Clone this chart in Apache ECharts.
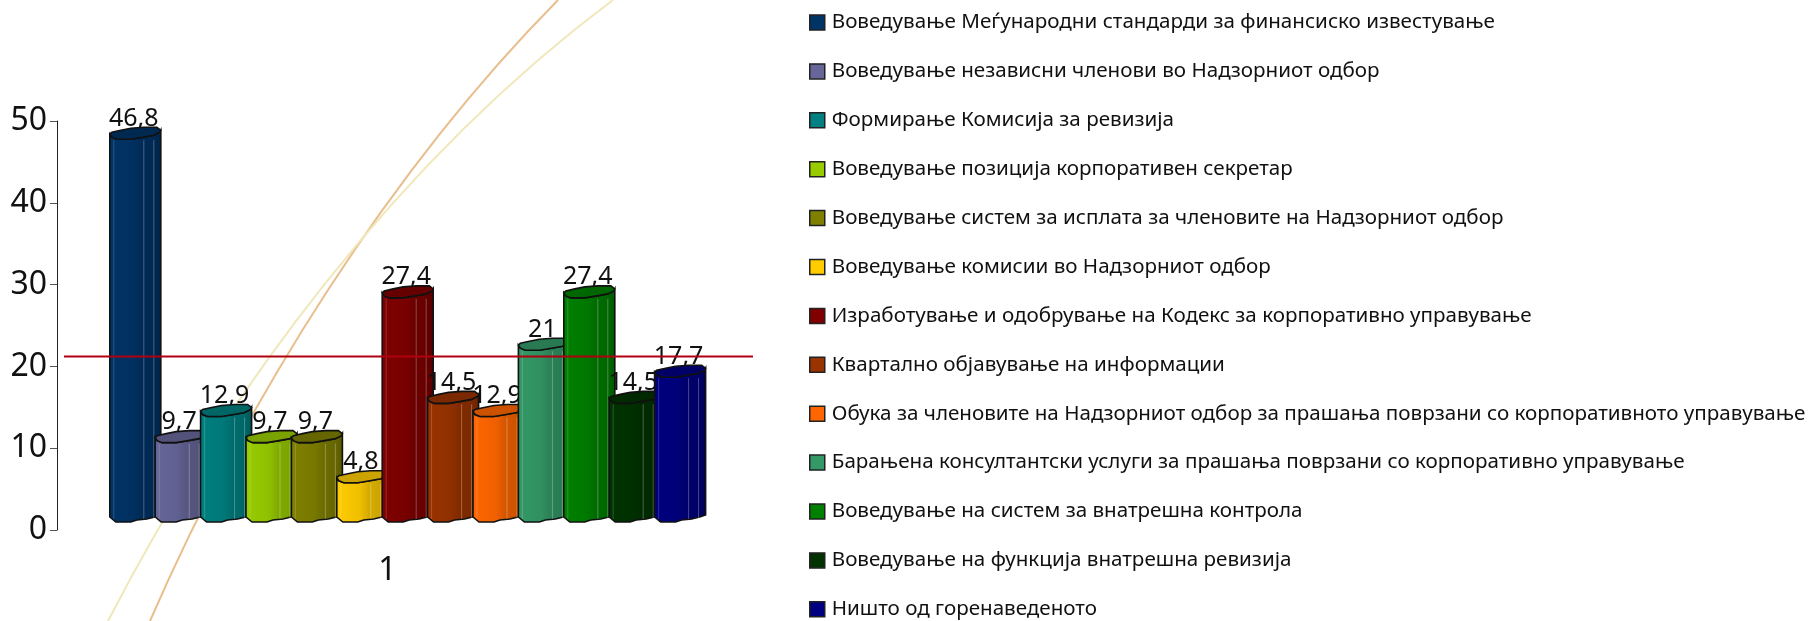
<!DOCTYPE html>
<html>
<head>
<meta charset="utf-8">
<title>chart</title>
<style>
html,body{margin:0;padding:0;background:#fff}
#main{width:1809px;height:621px}
</style>
<script src="https://cdn.jsdelivr.net/npm/echarts@6/dist/echarts.min.js"></script>
</head>
<body>
<div id="main"></div>
<script>
var categories = ['1'];
var names = [
  'Воведување Меѓународни стандарди за финансиско известување',
  'Воведување независни членови во Надзорниот одбор',
  'Формирање Комисија за ревизија',
  'Воведување позиција корпоративен секретар',
  'Воведување систем за исплата за членовите на Надзорниот одбор',
  'Воведување комисии во Надзорниот одбор',
  'Изработување и одобрување на Кодекс за корпоративно управување',
  'Квартално објавување на информации',
  'Обука за членовите на Надзорниот одбор за прашања поврзани со корпоративното управување',
  'Барањена консултантски услуги за прашања поврзани со корпоративно управување',
  'Воведување на систем за внатрешна контрола',
  'Воведување на функција внатрешна ревизија',
  'Ништо од горенаведеното'
];
var values = [46.8, 9.7, 12.9, 9.7, 9.7, 4.8, 27.4, 14.5, 12.9, 21, 27.4, 14.5, 17.7];
var colors = ['#003366','#666699','#008080','#99CC00','#808000','#FFCC00','#800000','#993300','#FF6600','#339966','#008000','#003300','#000080'];
var refLine = 21.2;
var fontName = '"Noto Sans"';

function shade(hex, k){
  var r = parseInt(hex.substr(1,2),16), g = parseInt(hex.substr(3,2),16), b = parseInt(hex.substr(5,2),16);
  return 'rgb('+Math.round(r*k)+','+Math.round(g*k)+','+Math.round(b*k)+')';
}

// wavy outline of the cylinder, offsets in px from the bar's corners
var lidFront = [[0,0],[2,3],[7,5],[21,5],[33,3],[44,1],[50,-2],[51,-4]];
var lidBack = [[47,-7],[34,-7],[21,-6],[11,-4],[2,-2]];
var foot = [[51,-7],[45,-5],[37,-3],[27,-2],[21,0],[6,0],[0,-5]];

function barItem(i){
  return function(params, api){
    var p = api.coord([api.value(0), api.value(1)]);
    var base = api.coord([api.value(0), 0]);
    var left = p[0] + (i-6)*45.4 - 5.3;
    var top = p[1] - 13;
    var bottom = base[1] - 8;
    var c = colors[i];
    var edge = '#111';
    var body = [], lid = [];
    lidFront.forEach(function(o){ body.push([left+o[0], top+o[1]]); lid.push([left+o[0], top+o[1]]); });
    foot.forEach(function(o){ body.push([left+o[0], bottom+o[1]]); });
    lidBack.forEach(function(o){ lid.push([left+o[0], top+o[1]]); });
    var kids = [
      {type:'text', style:{text:String(values[i]).replace('.',','), x:left+24, y:top-3, textAlign:'center', verticalAlign:'bottom', fill:'#111', font:'25px '+fontName}},
      {type:'polygon', shape:{points:body}, style:{
        fill:new echarts.graphic.LinearGradient(0,0,1,0,[
          {offset:0,color:shade(c,1)},{offset:0.45,color:shade(c,0.94)},
          {offset:0.62,color:shade(c,0.84)},{offset:0.86,color:shade(c,0.8)},{offset:1,color:shade(c,0.68)}
        ]), stroke:edge, lineWidth:1.6}}
    ];
    [4, 34, 44].forEach(function(dx, n){
      kids.push({type:'line', shape:{x1:left+dx, y1:top+6, x2:left+dx, y2:bottom-3},
        style:{stroke:'rgba(255,255,255,'+(n==0?0.18:0.28)+')', lineWidth:1}});
    });
    kids.push({type:'polygon', shape:{points:lid}, style:{fill:shade(c,0.8), stroke:edge, lineWidth:1.6}});
    return {type:'group', children:kids};
  };
}

var series = [];
for(var i=0;i<names.length;i++){
  series.push({
    type:'custom', name:names[i], data:[[0,values[i]]],
    encode:{x:0,y:1}, clip:false, itemStyle:{color:colors[i]},
    renderItem:barItem(i)
  });
}
// red horizontal line runs past both sides of the plot
series.push({
  type:'custom', name:'line', data:[[0,refLine]], encode:{x:0,y:1}, clip:false, z:5,
  renderItem:function(params, api){
    var p = api.coord([api.value(0), api.value(1)]);
    return {type:'line', shape:{x1:64, y1:p[1], x2:753, y2:p[1]}, style:{stroke:'#B00010', lineWidth:2}};
  }
});

var myChart = echarts.init(document.getElementById('main'));
var option = {
  animation:false,
  backgroundColor:'#fff',
  graphic:[
    {type:'bezierCurve', z:0, silent:true, shape:{x1:150,y1:621,cpx1:247,cpy1:397.5,cpx2:392,cpy2:168,x2:558,y2:0}, style:{stroke:'#E8BE8C', lineWidth:2, fill:null}},
    {type:'bezierCurve', z:0, silent:true, shape:{x1:108,y1:621,cpx1:228,cpy1:388.5,cpx2:400,cpy2:159,x2:613,y2:0}, style:{stroke:'#F0E8BA', lineWidth:2, fill:null}}
  ],
  grid:{left:57,top:121,width:661,height:409},
  xAxis:{type:'category', data:categories, axisLine:{show:false}, axisTick:{show:false},
    axisLabel:{fontSize:32, color:'#111', fontFamily:fontName, margin:25}},
  yAxis:{type:'value', min:0, max:50, interval:10, splitLine:{show:false},
    axisLine:{show:true, lineStyle:{color:'#222', width:1}},
    axisTick:{show:true, length:7, lineStyle:{color:'#555'}},
    axisLabel:{fontSize:32, color:'#111', fontFamily:fontName, margin:10}},
  legend:{
    orient:'vertical', left:809, top:12, height:640, padding:0, data:names, icon:'rect',
    itemWidth:15, itemHeight:15, itemGap:27.9, selectedMode:false,
    itemStyle:{borderColor:'#222', borderWidth:1.5},
    textStyle:{fontSize:20.6, color:'#111', fontFamily:fontName, padding:[0,0,0,2]}
  },
  series:series
};
myChart.setOption(option);
</script>
</body>
</html>
